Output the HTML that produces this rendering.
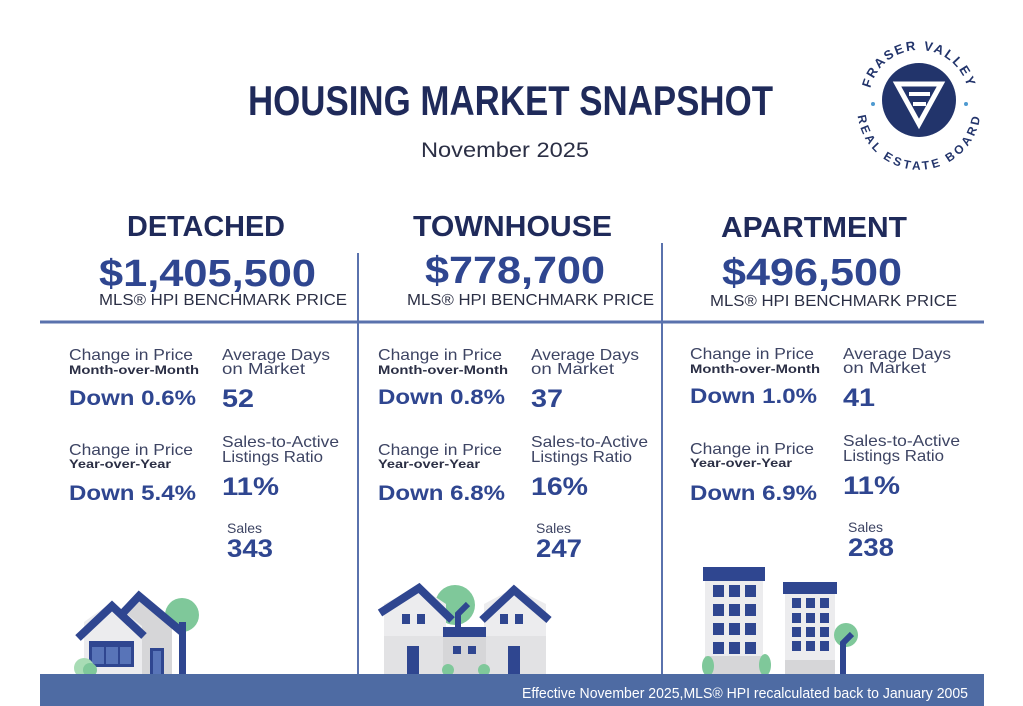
<!DOCTYPE html>
<html><head><meta charset="utf-8"><style>
html,body{margin:0;padding:0;background:#fff;width:1023px;height:706px;overflow:hidden}
svg{display:block}
text{font-family:"Liberation Sans",sans-serif}
.h{fill:#1f2a5a;font-weight:bold}
.p{fill:#2f4690;font-weight:bold}
.l{fill:#3d4463}
.v{fill:#2f4690;font-weight:bold}
.s{fill:#2b2f45;font-weight:bold}
</style></head><body>
<svg width="1023" height="706" viewBox="0 0 1023 706">
<rect width="1023" height="706" fill="#fff"/>
<!-- logo -->
<circle cx="919" cy="100" r="37" fill="#22346b"/>
<path d="M897 84 L941 84 L919 124 Z" fill="none" stroke="#fff" stroke-width="5"/>
<path d="M909 94 L930 94 M913 104 L926 104" stroke="#fff" stroke-width="4"/>
<circle cx="873" cy="104" r="2" fill="#4e9ad0"/><circle cx="966" cy="104" r="2" fill="#4e9ad0"/>
<defs><path id="arcT" d="M869 100 A50 50 0 0 1 969 100"/><path id="arcB" d="M866 108 A53 53 0 0 0 972 108"/></defs>
<text font-size="13" font-weight="bold" fill="#22346b" letter-spacing="2"><textPath href="#arcT" startOffset="50%" text-anchor="middle">FRASER VALLEY</textPath></text>
<text font-size="12" font-weight="bold" fill="#22346b" letter-spacing="1.5"><textPath href="#arcB" startOffset="50%" text-anchor="middle" dominant-baseline="hanging">REAL ESTATE BOARD</textPath></text>

<text class="h" x="248" y="115" font-size="42" textLength="525" lengthAdjust="spacingAndGlyphs">HOUSING MARKET SNAPSHOT</text>
<text x="421" y="157" font-size="21" fill="#2b2f45" textLength="168" lengthAdjust="spacingAndGlyphs">November 2025</text>

<text class="h" x="127" y="236" font-size="29" textLength="158" lengthAdjust="spacingAndGlyphs">DETACHED</text>
<text class="h" x="413" y="236" font-size="29" textLength="199" lengthAdjust="spacingAndGlyphs">TOWNHOUSE</text>
<text class="h" x="721" y="237" font-size="29" textLength="186" lengthAdjust="spacingAndGlyphs">APARTMENT</text>

<text class="p" x="99" y="286" font-size="38" textLength="217" lengthAdjust="spacingAndGlyphs">$1,405,500</text>
<text class="p" x="425" y="283" font-size="38" textLength="180" lengthAdjust="spacingAndGlyphs">$778,700</text>
<text class="p" x="722" y="285" font-size="38" textLength="180" lengthAdjust="spacingAndGlyphs">$496,500</text>

<text x="99" y="305" font-size="16" fill="#2b2f45" textLength="248" lengthAdjust="spacingAndGlyphs">MLS® HPI BENCHMARK PRICE</text>
<text x="407" y="305" font-size="16" fill="#2b2f45" textLength="247" lengthAdjust="spacingAndGlyphs">MLS® HPI BENCHMARK PRICE</text>
<text x="710" y="306" font-size="16" fill="#2b2f45" textLength="247" lengthAdjust="spacingAndGlyphs">MLS® HPI BENCHMARK PRICE</text>

<line x1="40" y1="322" x2="984" y2="322" stroke="#5a72ad" stroke-width="3"/>
<line x1="358" y1="253" x2="358" y2="675" stroke="#5a72ad" stroke-width="2"/>
<line x1="662" y1="243" x2="662" y2="675" stroke="#5a72ad" stroke-width="2"/>

<!-- column stats -->
<g id="c1">
<text class="l" x="69" y="360" font-size="16" textLength="124" lengthAdjust="spacingAndGlyphs">Change in Price</text>
<text class="s" x="69" y="374" font-size="12" textLength="130" lengthAdjust="spacingAndGlyphs">Month-over-Month</text>
<text class="l" x="69" y="455" font-size="16" textLength="124" lengthAdjust="spacingAndGlyphs">Change in Price</text>
<text class="s" x="69" y="468" font-size="12" textLength="102" lengthAdjust="spacingAndGlyphs">Year-over-Year</text>
<text class="l" x="222" y="360" font-size="16" textLength="108" lengthAdjust="spacingAndGlyphs">Average Days</text>
<text class="l" x="222" y="374" font-size="16" textLength="83" lengthAdjust="spacingAndGlyphs">on Market</text>
<text class="l" x="222" y="447" font-size="16" textLength="117" lengthAdjust="spacingAndGlyphs">Sales-to-Active</text>
<text class="l" x="222" y="462" font-size="16" textLength="101" lengthAdjust="spacingAndGlyphs">Listings Ratio</text>
<text class="l" x="227" y="533" font-size="14" textLength="35" lengthAdjust="spacingAndGlyphs">Sales</text>
</g>
<use href="#c1" x="309" y="0"/>
<use href="#c1" x="621" y="-1"/>

<text class="v" x="69" y="405" font-size="21" textLength="127" lengthAdjust="spacingAndGlyphs">Down 0.6%</text>
<text class="v" x="69" y="500" font-size="21" textLength="127" lengthAdjust="spacingAndGlyphs">Down 5.4%</text>
<text class="v" x="222" y="407" font-size="25" textLength="32" lengthAdjust="spacingAndGlyphs">52</text>
<text class="v" x="222" y="495" font-size="25" textLength="57" lengthAdjust="spacingAndGlyphs">11%</text>
<text class="v" x="227" y="557" font-size="25" textLength="46" lengthAdjust="spacingAndGlyphs">343</text>

<text class="v" x="378" y="404" font-size="21" textLength="127" lengthAdjust="spacingAndGlyphs">Down 0.8%</text>
<text class="v" x="378" y="500" font-size="21" textLength="127" lengthAdjust="spacingAndGlyphs">Down 6.8%</text>
<text class="v" x="531" y="407" font-size="25" textLength="32" lengthAdjust="spacingAndGlyphs">37</text>
<text class="v" x="531" y="495" font-size="25" textLength="57" lengthAdjust="spacingAndGlyphs">16%</text>
<text class="v" x="536" y="557" font-size="25" textLength="46" lengthAdjust="spacingAndGlyphs">247</text>

<text class="v" x="690" y="403" font-size="21" textLength="127" lengthAdjust="spacingAndGlyphs">Down 1.0%</text>
<text class="v" x="690" y="500" font-size="21" textLength="127" lengthAdjust="spacingAndGlyphs">Down 6.9%</text>
<text class="v" x="843" y="406" font-size="25" textLength="32" lengthAdjust="spacingAndGlyphs">41</text>
<text class="v" x="843" y="494" font-size="25" textLength="57" lengthAdjust="spacingAndGlyphs">11%</text>
<text class="v" x="848" y="556" font-size="25" textLength="46" lengthAdjust="spacingAndGlyphs">238</text>

<!-- detached house -->
<circle cx="182" cy="615" r="17" fill="#7fc89a"/>
<path d="M118 620 L139 598 L172 628 L172 674 L118 674Z" fill="#d6d6d8"/>
<path d="M84 622 L112 602 L142 626 L142 674 L84 674Z" fill="#ececee"/>
<path d="M78 638 L112 606 L144 636" fill="none" stroke="#2f4690" stroke-width="8"/>
<path d="M122 614 L139 596 L182 632" fill="none" stroke="#2f4690" stroke-width="8"/>
<rect x="179" y="622" width="7" height="52" fill="#2f4690"/>
<rect x="89" y="641" width="45" height="26" fill="#2f4690"/>
<rect x="92" y="647" width="12" height="17" fill="#5874b8"/><rect x="106" y="647" width="12" height="17" fill="#5874b8"/><rect x="120" y="647" width="11" height="17" fill="#5874b8"/>
<rect x="150" y="648" width="14" height="26" fill="#2f4690"/><rect x="153" y="651" width="8" height="23" fill="#5874b8"/>
<circle cx="84" cy="668" r="10" fill="#a8dcb5"/><circle cx="90" cy="670" r="7" fill="#7fc89a"/>

<!-- townhouse -->
<circle cx="455" cy="605" r="20" fill="#7fc89a"/>
<path d="M384 604 L419 586 L446 604 L446 674 L384 674Z" fill="#ececee"/>
<rect x="384" y="636" width="62" height="38" fill="#e2e2e4"/>
<path d="M484 604 L514 588 L546 604 L546 674 L484 674Z" fill="#ececee"/>
<rect x="484" y="636" width="62" height="38" fill="#e2e2e4"/>
<rect x="443" y="627" width="43" height="47" fill="#d6d6d8"/>
<rect x="443" y="627" width="43" height="10" fill="#2f4690"/>
<path d="M458 627 L458 614 L468 604" fill="none" stroke="#2f4690" stroke-width="6"/>
<path d="M380 613 L419 588 L452 620" fill="none" stroke="#2f4690" stroke-width="8"/>
<path d="M482 620 L514 590 L549 620" fill="none" stroke="#2f4690" stroke-width="8"/>
<rect x="402" y="614" width="8" height="10" fill="#2f4690"/><rect x="417" y="614" width="8" height="10" fill="#2f4690"/>
<rect x="500" y="614" width="8" height="10" fill="#2f4690"/><rect x="515" y="614" width="8" height="10" fill="#2f4690"/>
<rect x="453" y="646" width="8" height="8" fill="#2f4690"/><rect x="468" y="646" width="8" height="8" fill="#2f4690"/>
<rect x="407" y="646" width="12" height="28" fill="#2f4690"/><rect x="508" y="646" width="12" height="28" fill="#2f4690"/>
<circle cx="448" cy="670" r="6" fill="#7fc89a"/><circle cx="484" cy="670" r="6" fill="#7fc89a"/>

<!-- apartment -->
<rect x="705" y="581" width="58" height="93" fill="#ececee"/>
<rect x="705" y="656" width="58" height="18" fill="#d6d6d8"/>
<rect x="703" y="567" width="62" height="14" fill="#2f4690"/>
<g fill="#2f4690">
<rect x="713" y="585" width="11" height="12"/><rect x="729" y="585" width="11" height="12"/><rect x="745" y="585" width="11" height="12"/>
<rect x="713" y="604" width="11" height="12"/><rect x="729" y="604" width="11" height="12"/><rect x="745" y="604" width="11" height="12"/>
<rect x="713" y="623" width="11" height="12"/><rect x="729" y="623" width="11" height="12"/><rect x="745" y="623" width="11" height="12"/>
<rect x="713" y="642" width="11" height="12"/><rect x="729" y="642" width="11" height="12"/><rect x="745" y="642" width="11" height="12"/>
</g>
<rect x="785" y="594" width="50" height="80" fill="#ececee"/>
<rect x="785" y="660" width="50" height="14" fill="#d6d6d8"/>
<rect x="783" y="582" width="54" height="12" fill="#2f4690"/>
<g fill="#2f4690">
<rect x="792" y="598" width="9" height="10"/><rect x="806" y="598" width="9" height="10"/><rect x="820" y="598" width="9" height="10"/>
<rect x="792" y="613" width="9" height="10"/><rect x="806" y="613" width="9" height="10"/><rect x="820" y="613" width="9" height="10"/>
<rect x="792" y="627" width="9" height="10"/><rect x="806" y="627" width="9" height="10"/><rect x="820" y="627" width="9" height="10"/>
<rect x="792" y="641" width="9" height="10"/><rect x="806" y="641" width="9" height="10"/><rect x="820" y="641" width="9" height="10"/>
</g>
<circle cx="846" cy="635" r="12" fill="#7fc89a"/>
<path d="M843 674 L843 643 L852 634" fill="none" stroke="#2f4690" stroke-width="6"/>
<ellipse cx="708" cy="666" rx="6" ry="10" fill="#7fc89a"/><ellipse cx="765" cy="665" rx="6" ry="11" fill="#7fc89a"/>

<!-- footer -->
<rect x="40" y="674" width="944" height="32" fill="#4e6ba3"/>
<text x="522" y="698" font-size="15" fill="#fff" textLength="446" lengthAdjust="spacingAndGlyphs">Effective November 2025,MLS® HPI recalculated back to January 2005</text>
</svg>
</body></html>
